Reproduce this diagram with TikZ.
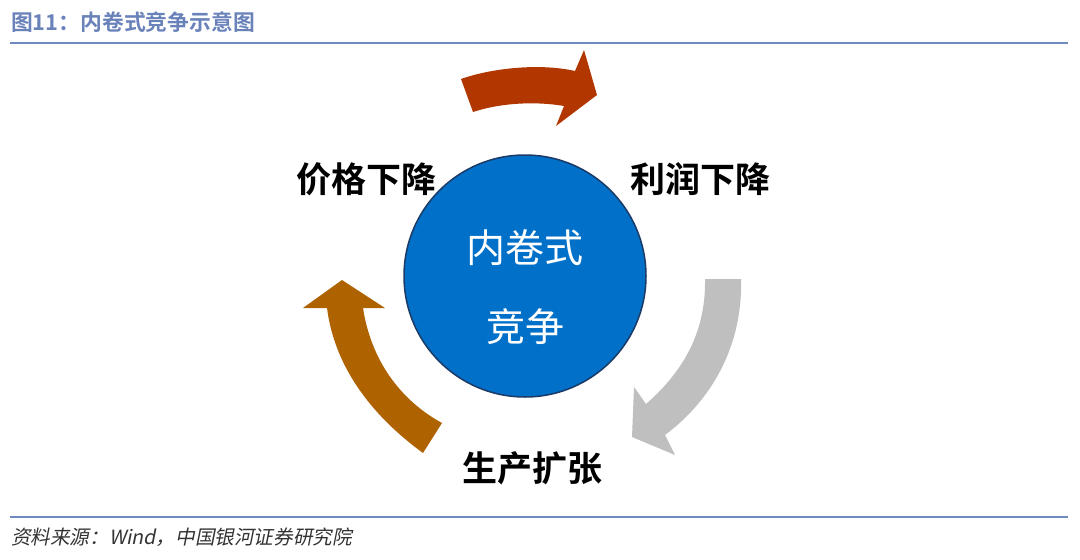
\documentclass[tikz,border=0pt]{standalone}
\usepackage{fontspec}
\newfontfamily\cjk{Noto Sans CJK SC}
\newfontfamily\cjkbold{Noto Sans CJK SC Bold}
\newfontfamily\cjkit[FakeSlant=0.2]{Noto Sans CJK SC}
\definecolor{titleblue}{HTML}{6A82BA}
\definecolor{ruleblue}{HTML}{7189C1}
\definecolor{circfill}{HTML}{0070C9}
\definecolor{circedge}{HTML}{1B3A66}
\definecolor{arrred}{HTML}{B23600}
\definecolor{arrgray}{HTML}{BFBFBF}
\definecolor{arrorange}{HTML}{AE6200}
\definecolor{srcgray}{HTML}{333333}
\tikzset{
  lbl/.style={font=\cjkbold\fontsize{35}{40}\selectfont, text=black, inner sep=0pt},
  intext/.style={font=\cjk\fontsize{39}{44}\selectfont, text=white, inner sep=0pt},
  rulestyle/.style={draw=ruleblue, line width=2pt},
}
\begin{document}
\begin{tikzpicture}[x=1pt,y=-1pt]
\useasboundingbox (0,0) rectangle (1080,560);
% title
\node[anchor=west, inner sep=0pt, text=titleblue, font=\cjkbold\fontsize{21.8}{24}\selectfont] (title) at (11,22) {图11：内卷式竞争示意图};
\draw[rulestyle] (10,43) -- (1068,43);
\draw[rulestyle] (10,517) -- (1068,517);
\node[anchor=west, inner sep=0pt, text=srcgray, font=\cjkit\fontsize{19.6}{24}\selectfont] (source) at (11,537) {资料来源：Wind，中国银河证券研究院};
% circle
\node[circle, minimum size=242pt, fill=circfill, draw=circedge, line width=1.5pt] (core) at (525,276) {};
\node[intext] (t1) at (525,248) {内卷式};
\node[intext] (t2) at (525,327) {竞争};
% labels
\node[lbl] (price) at (366,179) {价格下降};
\node[lbl] (profit) at (700,179) {利润下降};
\node[lbl] (prod) at (532,468) {生产扩张};
% top red arrow
\fill[arrred] (461,79) .. controls (492,68) and (540,63) .. (575,71)
  -- (584,50) -- (597,95) -- (556,126) -- (564,106)
  .. controls (535,101) and (500,103) .. (473,112) -- cycle;
% right gray arrow
\fill[arrgray] (741,279) .. controls (743,345) and (712,400) .. (665,435)
  -- (675,455) -- (632,437) -- (634,387) -- (646,404)
  .. controls (685,370) and (706,330) .. (705,279) -- cycle;
% left orange arrow
\fill[arrorange] (423,453) .. controls (375,418) and (335,370) .. (327,308)
  -- (303,308) -- (342,280) -- (385,308) -- (363,308)
  .. controls (371,360) and (400,400) .. (442,423) -- cycle;
\end{tikzpicture}
\end{document}
